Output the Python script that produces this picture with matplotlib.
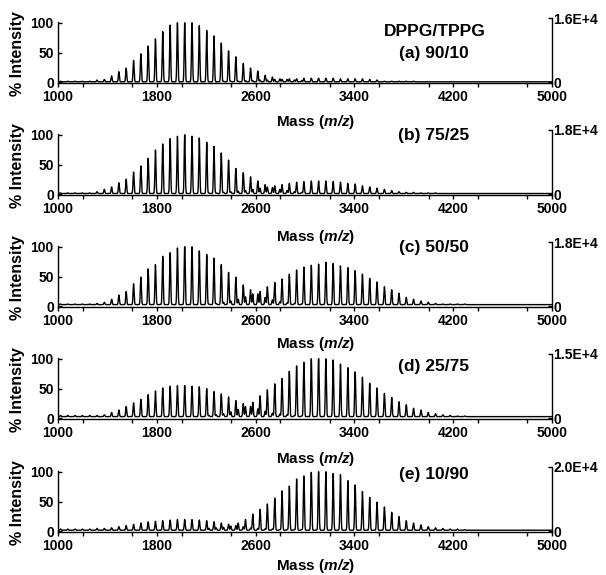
import numpy as np
import matplotlib.pyplot as plt
from matplotlib.ticker import MultipleLocator

plt.rcParams['font.family'] = ['Liberation Sans', 'DejaVu Sans']
plt.rcParams['font.weight'] = 'bold'
plt.rcParams['mathtext.fontset'] = 'custom'
plt.rcParams['mathtext.bfit'] = 'Liberation Sans:bold:italic'

# peak masses (m/z) of the two oligomer series
dppg_mass = [1020, 1079, 1138, 1197, 1257, 1316, 1375, 1434, 1493, 1552, 1612, 1671,
             1730, 1789, 1848, 1908, 1967, 2026, 2085, 2144, 2204, 2263, 2322, 2381,
             2440, 2500, 2559, 2618, 2677, 2736, 2796, 2855, 2914, 2973]
tppg_mass = [2222, 2281, 2340, 2399, 2459, 2518, 2577, 2636, 2695, 2755, 2814, 2873,
             2932, 2991, 3051, 3110, 3169, 3228, 3287, 3347, 3406, 3465, 3524, 3583,
             3643, 3702, 3761, 3820, 3879, 3939, 3998, 4057, 4116, 4175, 4235, 4294]

# relative peak heights (%)
dppg_a = [1, 1, 1, 1, 1, 3, 4, 10, 17, 23, 36, 47, 60, 72, 84, 95, 99, 99, 100, 94,
          86, 77, 65, 52, 42, 31, 23, 18, 11, 8, 5, 4, 3, 2]
tppg_a = [0, 0, 1, 1, 1, 2, 2, 3, 3, 4, 4, 5, 5, 6, 6, 6, 6, 6, 5, 5, 5, 5, 4, 3,
          1, 1, 1, 1, 1, 0, 0, 0, 0, 0, 0, 0]
dppg_b = [1, 1, 1, 1, 1, 3, 7, 11, 18, 24, 36, 46, 59, 73, 83, 92, 96, 100, 96, 93,
          86, 79, 68, 56, 42, 35, 28, 21, 15, 10, 7, 5, 3, 2]
tppg_b = [1, 1, 2, 3, 4, 5, 7, 9, 11, 13, 15, 17, 19, 20, 21, 21, 21, 20, 19, 17,
          16, 13, 11, 9, 7, 5, 3, 2, 2, 1, 1, 1, 0, 0, 0, 0]
dppg_c = [1, 1, 1, 1, 1, 2, 4, 9, 16, 22, 35, 46, 60, 67, 81, 87, 95, 100, 98, 90,
          84, 78, 67, 54, 46, 33, 25, 18, 12, 8, 5, 3, 2, 1]
tppg_c = [1, 2, 4, 6, 9, 13, 18, 22, 30, 37, 43, 51, 58, 63, 66, 68, 71, 69, 65, 62,
          57, 51, 44, 38, 30, 25, 19, 12, 9, 6, 4, 2, 1, 1, 1, 1]
dppg_d = [2, 2, 2, 2, 2, 2, 3, 7, 11, 17, 23, 29, 37, 43, 48, 51, 52, 52, 51, 50,
          47, 42, 38, 33, 27, 22, 17, 13, 9, 6, 4, 3, 2, 1]
tppg_d = [2, 3, 5, 8, 12, 17, 24, 35, 45, 55, 64, 76, 85, 91, 97, 100, 97, 95, 88, 82,
          75, 66, 56, 48, 39, 32, 25, 20, 14, 11, 7, 5, 3, 2, 1, 1]
dppg_e = [2, 2, 2, 2, 2, 3, 3, 4, 6, 8, 10, 12, 14, 15, 16, 17, 18, 18, 18, 17,
          16, 14, 12, 10, 8, 6, 4, 3, 2, 2, 1, 1, 1, 1]
tppg_e = [3, 4, 5, 7, 12, 18, 27, 35, 44, 54, 66, 74, 86, 91, 97, 100, 98, 95, 93, 83,
          76, 65, 55, 47, 39, 30, 23, 16, 12, 9, 6, 4, 3, 2, 2, 1]

dppg_sets = [dppg_a, dppg_b, dppg_c, dppg_d, dppg_e]
tppg_sets = [tppg_a, tppg_b, tppg_c, tppg_d, tppg_e]
blend_labels = ['(a) 90/10', '(b) 75/25', '(c) 50/50', '(d) 25/75', '(e) 10/90']
right_max = ['1.6E+4', '1.8E+4', '1.8E+4', '1.5E+4', '2.0E+4']
baselines = [1.0, 1.5, 3.0, 3.0, 2.0]
xticks = [1000, 1800, 2600, 3400, 4200, 5000]

W, H = 606, 575
fig = plt.figure(figsize=(W / 100, H / 100), dpi=100)

# panel geometry in pixels: zero line, height, left/right of frame
zero_px = [83, 195, 307, 419, 532]
panel_h = 65
left_px, right_px = 58, 552
label_y = [0.46, 0.92, 0.92, 0.80, 0.877]
mass_y = [-0.6, -0.64, -0.57, -0.615, -0.52]

mz = np.linspace(1000, 5000, 16001)
width = 4.2
ytop = 108

for i in range(5):
    rect = [left_px / W, 1 - zero_px[i] / H, (right_px - left_px) / W, panel_h / H]
    ax = fig.add_axes(rect)
    ax.patch.set_visible(False)
    spec = np.full_like(mz, baselines[i])
    for m, h in zip(dppg_mass, dppg_sets[i]):
        spec += h * np.exp(-0.5 * ((mz - m) / width) ** 2)
    for m, h in zip(tppg_mass, tppg_sets[i]):
        spec += h * np.exp(-0.5 * ((mz - m) / width) ** 2)
    ax.plot(mz, np.minimum(spec, 100), color='black', lw=1.0)

    ax.set_xlim(1000, 5000)
    ax.set_ylim(-1, ytop)
    ax.set_xticks(xticks)
    ax.xaxis.set_minor_locator(MultipleLocator(400))
    ax.set_yticks([0, 50, 100])
    ax.tick_params(axis='x', which='both', direction='out', length=3, width=1, pad=2,
                   labelsize=10)
    ax.tick_params(axis='y', direction='in', length=3, width=1, labelsize=10, pad=3)
    ax.spines['top'].set_visible(False)
    ax.spines['right'].set_visible(False)
    ax.spines['left'].set_bounds(-1, 101)
    for s in ['left', 'bottom']:
        ax.spines[s].set_linewidth(1.0)

    ax2 = ax.twinx()
    ax2.patch.set_visible(False)
    ax2.set_ylim(-1, ytop)
    ax2.set_yticks([0, ytop])
    ax2.set_yticklabels(['0', right_max[i]])
    ax2.tick_params(axis='y', direction='in', length=3, width=1, labelsize=10, pad=1)
    for s in ['top', 'left', 'bottom']:
        ax2.spines[s].set_visible(False)
    ax2.spines['right'].set_linewidth(1.0)

    ax.text(-0.081, 0.45, '% Intensity', transform=ax.transAxes, rotation=90,
            ha='center', va='center', fontsize=11.5)
    ax.text(0.522, mass_y[i], r'Mass ($\mathbfit{m/z}$)', transform=ax.transAxes,
            ha='center', va='center', fontsize=11)
    ax.text(0.76, label_y[i], blend_labels[i], transform=ax.transAxes,
            ha='center', va='center', fontsize=12.5)
    if i == 0:
        ax.text(0.763, 0.785, 'DPPG/TPPG', transform=ax.transAxes,
                ha='center', va='center', fontsize=12.5)

fig.savefig('out.png', dpi=100)
